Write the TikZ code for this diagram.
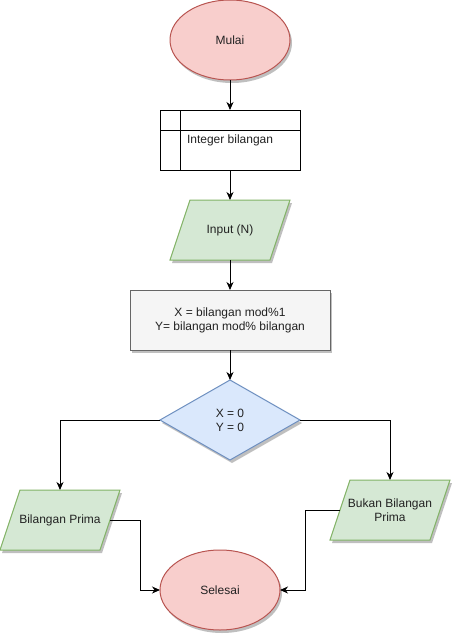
\documentclass[tikz,border=0pt]{standalone}
\usepackage{fontspec}
\setmainfont{Liberation Sans}
\usetikzlibrary{shapes.geometric,arrows.meta,shadows}
\pgfdeclarelayer{bg}
\pgfsetlayers{bg,main}
\definecolor{redf}{HTML}{F8CECC}
\definecolor{redd}{HTML}{B85450}
\definecolor{greenf}{HTML}{D5E8D4}
\definecolor{greend}{HTML}{82B366}
\definecolor{bluef}{HTML}{DAE8FC}
\definecolor{blued}{HTML}{6C8EBF}
\definecolor{grayf}{HTML}{F5F5F5}
\definecolor{grayd}{HTML}{666666}
\definecolor{txt}{HTML}{222222}
\newcommand\mypara[3]{%
\begin{pgfonlayer}{bg}
\fill[black,opacity=0.25] ([xshift=-8pt,yshift=-3pt]#1.south west) -- ([xshift=-8pt,yshift=-3pt]#1.south east) -- ([xshift=12pt,yshift=-3pt]#1.north east) -- ([xshift=12pt,yshift=-3pt]#1.north west) -- cycle;
\filldraw[fill=#2,draw=#3,line width=1pt] ([xshift=-10pt]#1.south west) -- ([xshift=-10pt]#1.south east) -- ([xshift=10pt]#1.north east) -- ([xshift=10pt]#1.north west) -- cycle;
\end{pgfonlayer}}
\begin{document}
\begin{tikzpicture}[x=1pt,y=-1pt,
  every node/.style={font=\fontsize{12}{14}\selectfont, text=txt, inner sep=0pt, outer sep=0pt},
  shad/.style={drop shadow={shadow xshift=2pt,shadow yshift=-3pt,opacity=0.25,fill=black}},
  terminal/.style={ellipse, draw=redd, fill=redf, line width=1pt, minimum width=120pt, minimum height=80pt, shad},
  databox/.style={rectangle, minimum width=100pt, minimum height=60pt, align=center},
  procbox/.style={rectangle, draw=grayd, fill=grayf, line width=1pt, minimum width=200pt, minimum height=60pt, align=center, shad},
  decision/.style={diamond, aspect=1.75, draw=blued, fill=bluef, line width=1pt, minimum width=140pt, minimum height=80pt, align=center, shad},
  varbox/.style={rectangle, draw=black, fill=white, line width=1pt, minimum width=140pt, minimum height=60pt},
  conn/.style={draw=black, line width=1pt, -{Stealth[length=8pt,width=7pt,inset=2.5pt]}}
]
\useasboundingbox (0,0) rectangle (455,635);

\node[terminal] (mulai) at (230,40) {Mulai};
\node[varbox] (ib) at (230,140) {};
\draw[line width=1pt] ([xshift=20pt]ib.north west) -- ([xshift=20pt]ib.south west);
\draw[line width=1pt] ([yshift=-20pt]ib.north west) -- ([yshift=-20pt]ib.north east);
\node[anchor=west] (ibtext) at (187,140) {Integer bilangan};

\node[databox] (input) at (230,230) {Input (N)};
\mypara{input}{greenf}{greend}

\node[procbox] (proc) at (230,320) {X = bilangan mod\%1\\Y= bilangan mod\% bilangan};

\node[decision] (dec) at (230,420) {X = 0\\Y = 0};

\node[databox] (bp) at (60,520) {Bilangan Prima};
\mypara{bp}{greenf}{greend}

\node[databox] (bb) at (390,510) {Bukan Bilangan\\Prima};
\mypara{bb}{greenf}{greend}

\node[terminal] (selesai) at (220,590) {Selesai};

\draw[conn] (mulai.south) -- (ib.north);
\draw[conn] (ib.south) -- (input.north);
\draw[conn] (input.south) -- (proc.north);
\draw[conn] (proc.south) -- (dec.north);
\draw[conn] (dec.west) -| (bp.north);
\draw[conn] (dec.east) -| (bb.north);
\draw[conn] (bp.east) -- ++(30,0) |- (selesai.west);
\draw[conn] (bb.west) -- ++(-35,0) |- (selesai.east);
\end{tikzpicture}
\end{document}
